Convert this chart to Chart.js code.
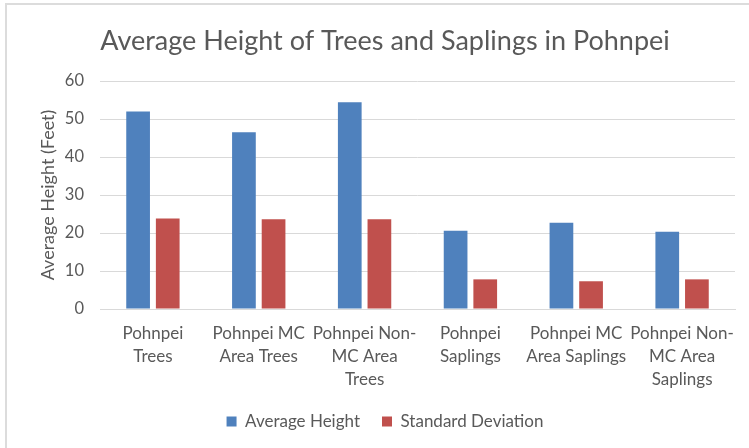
<!DOCTYPE html>
<html><head><meta charset="utf-8">
<script src="https://cdn.jsdelivr.net/npm/chart.js@4.4.1/dist/chart.umd.min.js"></script>
<style>html,body{margin:0;padding:0;background:#fff;}#wrap{width:749px;height:448px;}</style>
</head><body><div id="wrap"><canvas id="c" width="749" height="448"></canvas></div>
<script>
const categories = [["Pohnpei","Trees"],["Pohnpei MC","Area Trees"],["Pohnpei Non-","MC Area","Trees"],["Pohnpei","Saplings"],["Pohnpei MC","Area Saplings"],["Pohnpei Non-","MC Area","Saplings"]];
const averageHeight = [52.0, 46.5, 54.4, 20.6, 22.7, 20.3];
const standardDeviation = [23.8, 23.6, 23.6, 7.8, 7.3, 7.8];
const yTicks = [0, 10, 20, 30, 40, 50, 60];
const seriesNames = ["Average Height", "Standard Deviation"];
const chartTitle = "Average Height of Trees and Saplings in Pohnpei";
const yAxisTitle = "Average Height (Feet)";

const TEXT = '#595959';
const FONT = 'Lato, "Open Sans", sans-serif';

const frame = {
  id: 'frame',
  beforeDraw(chart) {
    const ctx = chart.ctx;
    ctx.save();
    ctx.fillStyle = '#fff';
    ctx.fillRect(0, 0, chart.width, chart.height);
    ctx.fillStyle = '#dcdcdc';
    ctx.fillRect(5, 3, 2, chart.height - 3);
    ctx.fillRect(5, 3, chart.width - 5, 2);
    ctx.restore();
  }
};

new Chart(document.getElementById('c'), {
  type: 'bar',
  data: {
    labels: categories,
    datasets: [
      { label: seriesNames[0], data: averageHeight, backgroundColor: '#4F81BD' },
      { label: seriesNames[1], data: standardDeviation, backgroundColor: '#C0504D' }
    ]
  },
  options: {
    responsive: false,
    animation: false,
    devicePixelRatio: 1,
    categoryPercentage: 0.56,
    barPercentage: 0.8,
    layout: { padding: { left: 35, right: 14, top: 0, bottom: 8 } },
    plugins: {
      title: {
        display: true, text: chartTitle, color: TEXT,
        font: { family: FONT, size: 27, weight: 'normal', lineHeight: 1.2 },
        padding: { top: 25, bottom: 23.6 }
      },
      legend: {
        position: 'bottom',
        labels: {
          color: TEXT, boxWidth: 10, boxHeight: 10, padding: 22,
          font: { family: FONT, size: 17 }
        }
      },
      tooltip: { enabled: false }
    },
    scales: {
      y: {
        min: 0, max: 60,
        afterBuildTicks(s) { s.ticks = yTicks.map(v => ({ value: v })); },
        afterFit(s) { s.width = 65; },
        ticks: { color: TEXT, padding: 16, font: { family: FONT, size: 16.5 } },
        grid: { color: '#d9d9d9', lineWidth: 1, drawTicks: false },
        border: { display: false },
        title: { display: true, text: yAxisTitle, color: TEXT, font: { family: FONT, size: 18 }, padding: { top: 2, bottom: 0 } }
      },
      x: {
        afterFit(s) { s.height = 82; },
        grid: { display: false, drawTicks: false },
        border: { display: true, color: '#d9d9d9' },
        ticks: { color: TEXT, padding: 13, maxRotation: 0, autoSkip: false, font: { family: FONT, size: 17, lineHeight: 1.35 } }
      }
    }
  },
  plugins: [frame]
});
</script></body></html>
